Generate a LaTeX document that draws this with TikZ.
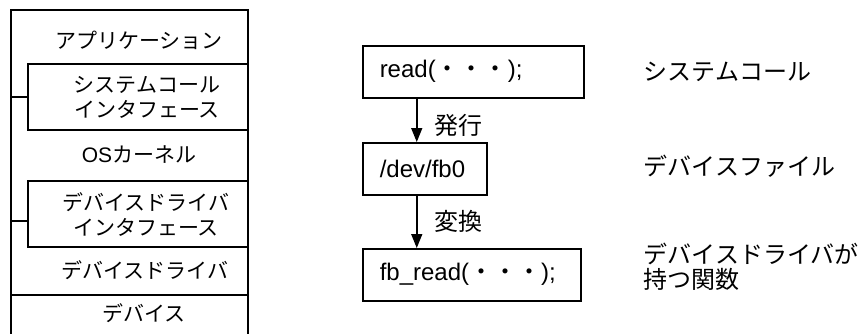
\documentclass[tikz,border=0pt]{standalone}
\usepackage{fontspec}
\setmainfont{Liberation Sans}
\newfontfamily\jp{Noto Sans CJK JP}
\usetikzlibrary{positioning, calc, arrows.meta}

\begin{document}
\begin{tikzpicture}[x=1pt, y=-1pt, line width=1.5pt,
        small/.style={font=\jp\fontsize{21}{25}\selectfont, align=center, inner sep=0pt},
        big/.style={font=\fontsize{24}{25}\selectfont, align=left, inner sep=0pt},
        jbig/.style={big, font=\jp\fontsize{24}{25}\selectfont},
        ifbox/.style={draw, minimum width=220pt, minimum height=66pt},
        fnbox/.style={draw, big, anchor=north west, inner xsep=17pt, minimum height=52pt},
        flow/.style={-{Triangle[length=14pt, width=11pt]}}]
    \useasboundingbox (0,0) rectangle (867,333);

    % left: the layers
    \coordinate (top) at (11,10);
    \coordinate (div) at (11,295);
    \draw (11,345) -- (top) -- (248,10) -- (248,345);
    \node[small] (app) at (139,40) {アプリケーション};
    \node[ifbox] (sysif) at (138,97) {};
    \node[small] (systxt) at (147,97) {システムコール\\インタフェース};
    \node[small] (kernel) at (139,155) {{\rmfamily OS}カーネル};
    \node[ifbox] (drvif) at (138,214) {};
    \node[small] (drvtxt) at (146,215) {デバイスドライバ\\インタフェース};
    \node[small] (drv) at (145,270) {デバイスドライバ};
    \node[small] (dev) at (144,313) {デバイス};
    \draw (sysif.west -| top) -- (sysif.west);
    \draw ([yshift=-7pt]drvif.west -| top) -- ([yshift=-7pt]drvif.west);
    \draw (div) -- (div -| sysif.east);

    % middle: the call
    \node[fnbox, text width=187pt] (read) at (362,45) {read({\jp ・・・});};
    \node[fnbox, text width=90pt] (fb0) at (362,142) {/dev/fb0};
    \node[fnbox, text width=184pt] (fbread) at (362,248) {fb\_read({\jp ・・・});};
    \draw[flow] ([xshift=-8pt]fb0.north |- read.south) -- node[jbig, right=17pt, yshift=-5pt] (issue) {発行} ([xshift=-8pt]fb0.north);
    \draw[flow] ([xshift=-8pt]fb0.south) -- node[jbig, right=17pt] (conv) {変換} ([xshift=-8pt]fb0.south |- fbread.north);

    % right: what each one is
    \node[jbig, anchor=west] (lsys) at (643,72) {システムコール};
    \node[jbig, anchor=west] (lfile) at (643,166) {デバイスファイル};
    \node[jbig, anchor=west] (lfunc) at (643,267) {デバイスドライバが\\持つ関数};
\end{tikzpicture}
\end{document}
